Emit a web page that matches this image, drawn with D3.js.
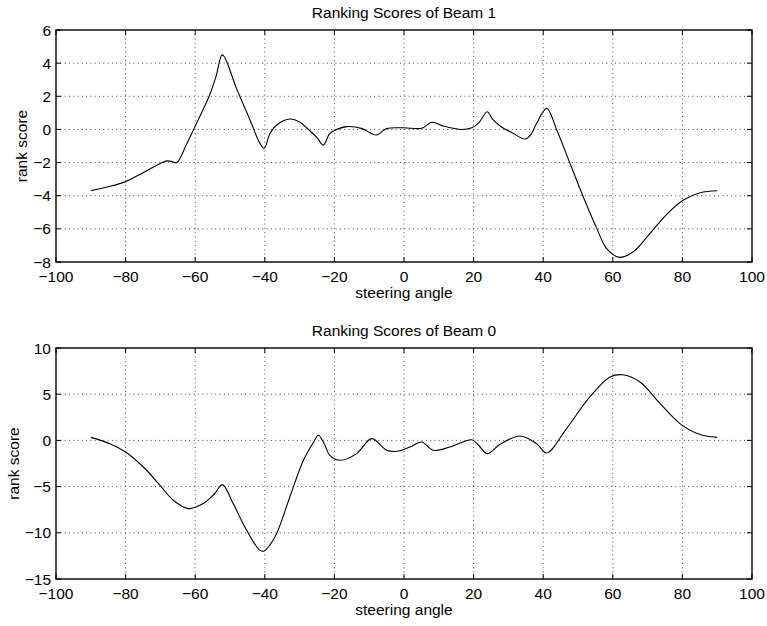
<!DOCTYPE html>
<html>
<head>
<meta charset="utf-8">
<script src="https://cdn.jsdelivr.net/npm/d3@7"></script>
<style>
  html, body { margin: 0; padding: 0; background: #fff; }
  svg text { font-family: "Liberation Sans", Arial, Helvetica, sans-serif; font-size: 15.5px; fill: #000; }
</style>
</head>
<body>
<div class="chart"></div>
<script>
// beam 1 (upper panel)
const angles1 = [-90, -85, -80, -75, -70, -68, -66.5, -65.3, -62.5, -60, -56, -54, -52.2, -48, -44.3, -41.4, -40.2,
  -38.5, -36.6, -32.8, -30, -28, -25, -23.2, -21.5, -20.3, -16.5, -12, -8, -5, -0.2, 5.1, 8, 11.3, 16.1, 19.5,
  21.5, 23.9, 25.5, 27.6, 31.4, 34.8, 36.5, 38.1, 41, 43.9, 47.7, 51.5, 55.4, 58.2, 61.9, 65.9, 70.7, 75.5,
  80.3, 85.1, 90]
const scores1 = [-3.7, -3.46, -3.15, -2.61, -2.05, -1.9, -1.95, -2.0, -0.9, 0.2, 2.0, 3.2, 4.5, 2.4, 0.6, -0.84, -1.14,
  -0.24, 0.27, 0.63, 0.45, 0.1, -0.5, -0.95, -0.3, -0.1, 0.17, 0.05, -0.34, 0.05, 0.1, 0.07, 0.43, 0.21, 0.0, 0.1,
  0.4, 1.07, 0.6, 0.21, -0.24, -0.58, -0.3, 0.37, 1.27, -0.03, -2.05, -4.06, -5.97, -7.18, -7.72, -7.38, -6.27, -5.12,
  -4.26, -3.82, -3.7]

// beam 0 (lower panel)
const angles0 = [-90, -84.5, -80, -74.9, -70.1, -66.3, -62, -57.7, -54.5, -52.2, -49.1, -45.2, -41.4, -40.2, -38.5,
  -36.6, -32.8, -28.9, -26, -24.6, -23, -21.3, -18.4, -13.6, -9.3, -5, -2.1, 1.7, 5.1, 8.4, 13.2, 19.5, 21.5, 23.9,
  27.6, 33.3, 38.1, 41, 46.7, 53.4, 59.2, 62.8, 67.8, 73.6, 79.3, 85.1, 90]
const scores0 = [0.33, -0.35, -1.25, -2.88, -4.86, -6.48, -7.38, -6.84, -5.8, -4.79, -6.84, -9.73, -11.9, -11.97, -11.3,
  -10.09, -6.12, -2.15, -0.2, 0.55, -0.3, -1.61, -2.15, -1.43, 0.19, -1.07, -1.18, -0.71, -0.17, -1.07, -0.71, 0.07, -0.55, -1.43,
  -0.42, 0.48, -0.35, -1.36, 1.28, 4.7, 6.86, 7.1, 6.32, 3.98, 1.82, 0.63, 0.33]

const xTicks = d3.range(-100, 101, 20)
const yTicks1 = d3.range(-8, 7, 2)
const yTicks0 = d3.range(-15, 11, 5)

const width = 767
const height = 626

const svg = d3.select(".chart")
  .append("svg")
  .attr("width", width)
  .attr("height", height)

function drawPanel(cfg) {
  const { title, xs, ys, yTicks, top, bottom, ylabelX } = cfg
  const left = 56
  const right = 752
  const tick = 5

  const x = d3.scaleLinear().domain([-100, 100]).range([left, right])
  const y = d3.scaleLinear().domain([yTicks[0], yTicks[yTicks.length - 1]]).range([bottom, top])
  const fmt = d3.format("d")

  const g = svg.append("g")

  // dotted grid
  g.selectAll(".gx")
    .data(xTicks.slice(1, -1))
    .enter().append("line")
    .attr("x1", d => x(d)).attr("x2", d => x(d))
    .attr("y1", top).attr("y2", bottom)
    .attr("stroke", "#333").attr("stroke-width", 0.9)
    .attr("stroke-dasharray", "1,3.3")

  g.selectAll(".gy")
    .data(yTicks.slice(1, -1))
    .enter().append("line")
    .attr("x1", left).attr("x2", right)
    .attr("y1", d => y(d)).attr("y2", d => y(d))
    .attr("stroke", "#333").attr("stroke-width", 0.9)
    .attr("stroke-dasharray", "1,3.3")

  // inward ticks on all four sides
  xTicks.forEach(d => {
    g.append("line").attr("x1", x(d)).attr("x2", x(d)).attr("y1", bottom).attr("y2", bottom - tick)
      .attr("stroke", "#000")
    g.append("line").attr("x1", x(d)).attr("x2", x(d)).attr("y1", top).attr("y2", top + tick)
      .attr("stroke", "#000")
  })
  yTicks.forEach(d => {
    g.append("line").attr("x1", left).attr("x2", left + tick).attr("y1", y(d)).attr("y2", y(d))
      .attr("stroke", "#000")
    g.append("line").attr("x1", right).attr("x2", right - tick).attr("y1", y(d)).attr("y2", y(d))
      .attr("stroke", "#000")
  })

  // the curve
  const line = d3.line()
    .x(d => x(d[0]))
    .y(d => y(d[1]))
    .curve(d3.curveCatmullRom.alpha(0.5))

  g.append("path")
    .datum(d3.zip(xs, ys))
    .attr("d", line)
    .attr("fill", "none")
    .attr("stroke", "#000")
    .attr("stroke-width", 1.1)

  // box
  g.append("rect")
    .attr("x", left).attr("y", top)
    .attr("width", right - left).attr("height", bottom - top)
    .attr("fill", "none").attr("stroke", "#000").attr("stroke-width", 1.4)

  // tick labels
  g.selectAll(".xl")
    .data(xTicks)
    .enter().append("text")
    .attr("x", d => x(d))
    .attr("y", bottom + 19.5)
    .attr("text-anchor", "middle")
    .text(d => fmt(d))

  g.selectAll(".yl")
    .data(yTicks)
    .enter().append("text")
    .attr("x", left - 5)
    .attr("y", d => y(d))
    .attr("dy", "0.36em")
    .attr("text-anchor", "end")
    .text(d => fmt(d))

  g.append("text")
    .attr("x", (left + right) / 2)
    .attr("y", top - 12.5)
    .attr("text-anchor", "middle")
    .text(title)

  g.append("text")
    .attr("x", (left + right) / 2)
    .attr("y", bottom + 36)
    .attr("text-anchor", "middle")
    .text("steering angle")

  g.append("text")
    .attr("transform", "translate(" + ylabelX + "," + (top + bottom) / 2 + ") rotate(-90)")
    .attr("text-anchor", "middle")
    .text("rank score")
}

drawPanel({ title: "Ranking Scores of Beam 1", xs: angles1, ys: scores1, yTicks: yTicks1, top: 30, bottom: 262, ylabelX: 27 })
drawPanel({ title: "Ranking Scores of Beam 0", xs: angles0, ys: scores0, yTicks: yTicks0, top: 348, bottom: 579, ylabelX: 18.5 })
</script>
</body>
</html>
